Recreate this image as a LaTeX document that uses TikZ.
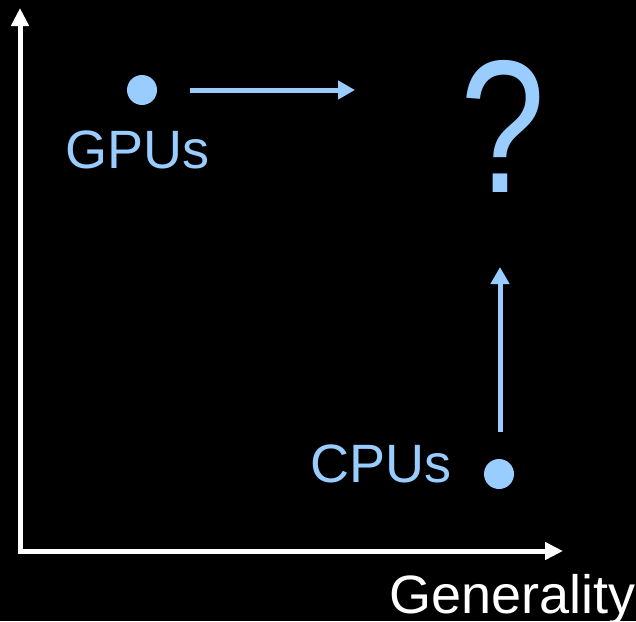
\documentclass[tikz,border=0pt]{standalone}
\usepackage{fontspec}
\setmainfont{Liberation Sans}
\usetikzlibrary{arrows.meta}
\definecolor{lblue}{HTML}{99CCFF}
\begin{document}
\begin{tikzpicture}[x=1pt,y=-1pt,
  axis/.style={draw=white,line width=5pt,-{Triangle[length=18pt,width=17pt]}},
  barrow/.style={draw=lblue,line width=5pt,-{Triangle[length=17pt,width=18pt]}},
  dot/.style={circle,fill=lblue,minimum size=30pt,inner sep=0pt},
  lbl/.style={inner sep=0pt,font=\fontsize{54}{60}\selectfont}]
\fill[black] (0,0) rectangle (636,621);
\useasboundingbox (0,0) rectangle (636,621);
% axes
\coordinate (origin) at (20,551);
\coordinate (ytip) at (20,8);
\coordinate (xtip) at (563,551);
\draw[axis] ([yshift=2.5pt]origin) -- (ytip);
\draw[axis] ([xshift=-2.5pt]origin) -- (xtip);
\node[lbl,text=white,anchor=base west] (gen) at (389,613) {Generality};
% points
\node[dot] (gpu) at (142,90) {};
\node[dot] (cpu) at (499,474) {};
\node[lbl,text=lblue,anchor=base west] (gpul) at (65,168) {GPUs};
\node[lbl,text=lblue,anchor=base west] (cpul) at (310,482) {CPUs};
\node[inner sep=0pt,text=lblue,anchor=base,font=\fontsize{166}{190}\selectfont] (q) at (503,192) {\scalebox{0.92}[1.14]{?}};
% arrows
\coordinate (gtail) at (190,90);
\coordinate (ghead) at (355,90);
\coordinate (ctail) at (500,432);
\coordinate (chead) at (500,267);
\draw[barrow] (gtail) -- (ghead);
\draw[barrow] (ctail) -- (chead);
\end{tikzpicture}
\end{document}
